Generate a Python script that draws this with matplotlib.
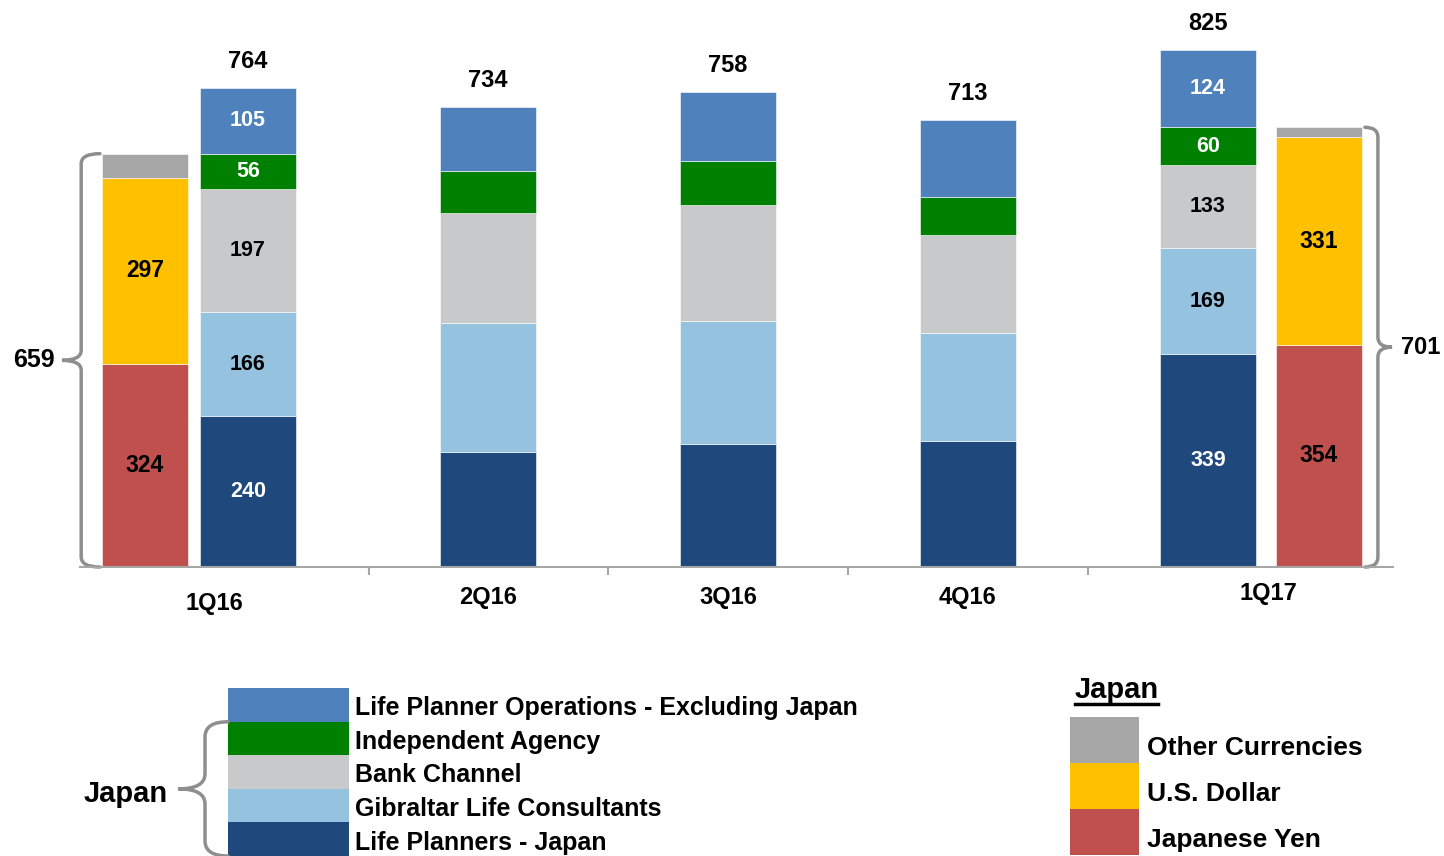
import numpy as np
import matplotlib.pyplot as plt
from matplotlib.path import Path
from matplotlib.patches import PathPatch

plt.rcParams["font.family"] = ["Liberation Sans", "DejaVu Sans"]
plt.rcParams["font.weight"] = "bold"

# ---- data ----
quarters = ["1Q16", "2Q16", "3Q16", "4Q16", "1Q17"]
planners_japan = [240, 183, 196, 201, 339]
gibraltar = [166, 206, 196, 172, 169]
bank = [197, 176, 185, 157, 133]
agency = [56, 67, 70, 60, 60]
lpo_ex_japan = [105, 102, 111, 123, 124]
totals = [764, 734, 758, 713, 825]

# currency split of japan, only for 1Q16 and 1Q17
yen = [324, 354]
usd = [297, 331]
other_ccy = [38, 16]
japan_totals = [659, 701]

channel_names = [
    "Life Planner Operations - Excluding Japan",
    "Independent Agency",
    "Bank Channel",
    "Gibraltar Life Consultants",
    "Life Planners - Japan",
]
currency_names = ["Other Currencies", "U.S. Dollar", "Japanese Yen"]

c_dark = "#1F497D"
c_light = "#95C2DE"
c_gray = "#C8C9CB"
c_green = "#008000"
c_mid = "#4F81BD"
c_red = "#C0504D"
c_yellow = "#FFC000"
c_other = "#A6A6A6"
brace_color = "#8E8E8E"


def brace(ax, x_end, x_spine, x_tip, y0, y1, r, **kw):
    ym = (y0 + y1) / 2
    verts = [
        (x_end, y1), (x_spine, y1), (x_spine, y1 - r),
        (x_spine, ym + r), (x_spine, ym), (x_tip, ym),
        (x_spine, ym), (x_spine, ym - r),
        (x_spine, y0 + r), (x_spine, y0), (x_end, y0),
    ]
    codes = [Path.MOVETO, Path.CURVE3, Path.CURVE3,
             Path.LINETO, Path.CURVE3, Path.CURVE3,
             Path.CURVE3, Path.CURVE3,
             Path.LINETO, Path.CURVE3, Path.CURVE3]
    patch = PathPatch(Path(verts, codes), fill=False, edgecolor=brace_color,
                      lw=2.5, clip_on=False, capstyle="round", **kw)
    ax.add_patch(patch)


fig = plt.figure(figsize=(14.44, 8.56), dpi=100)
ax = fig.add_axes([0.0554, 0.3376, 0.9093, 0.6624])

x = np.arange(len(quarters))
w = 0.4
segments = [
    (planners_japan, c_dark, "white"),
    (gibraltar, c_light, "black"),
    (bank, c_gray, "black"),
    (agency, c_green, "white"),
    (lpo_ex_japan, c_mid, "white"),
]
bottom = np.zeros(len(quarters))
for vals, col, tcol in segments:
    bars = ax.bar(x, vals, w, bottom=bottom, color=col, edgecolor="white", lw=0.4)
    for i in (0, 4):
        ax.text(x[i], bottom[i] + vals[i] / 2, str(vals[i]), ha="center",
                va="center", color=tcol, fontsize=15.5, fontweight="bold")
    bottom += np.array(vals)

for i, t in enumerate(totals):
    ax.annotate(str(t), (x[i], bottom[i]), xytext=(0, 19), textcoords="offset points",
                ha="center", va="center", fontsize=17, fontweight="bold")

# currency bars
cx = np.array([x[0] - 0.43, x[4] + 0.4625])
cw = 0.36
cbottom = np.zeros(2)
for vals, col, show in [(yen, c_red, True), (usd, c_yellow, True), (other_ccy, c_other, False)]:
    ax.bar(cx, vals, cw, bottom=cbottom, color=col, edgecolor="white", lw=0.4)
    if show:
        for j in range(2):
            ax.text(cx[j], cbottom[j] + vals[j] / 2, str(vals[j]), ha="center",
                    va="center", color="black", fontsize=16.5, fontweight="bold")
    cbottom += np.array(vals)

# braces around currency bars
brace(ax, -0.617, -0.695, -0.775, 0, japan_totals[0], 16)
ax.text(-0.805, japan_totals[0] / 2, str(japan_totals[0]), ha="right", va="center",
        fontsize=18, fontweight="bold", clip_on=False)
brace(ax, 4.654, 4.708, 4.767, 0, japan_totals[1], 16)
ax.text(4.805, japan_totals[1] / 2, str(japan_totals[1]), ha="left", va="center",
        fontsize=17, fontweight="bold", clip_on=False)

# category labels
label_x = [-0.142, 1, 2, 3, 4.25]
label_y = [-58, -48, -48, -48, -43]
for lx, ly, q in zip(label_x, label_y, quarters):
    ax.text(lx, ly, q, ha="center", va="center", fontsize=17, fontweight="bold")

ax.set_xlim(-0.7, 4.771)
ax.set_ylim(0, 904)
ax.set_xticks([0.504, 1.5, 2.5, 3.5])
ax.set_xticklabels([])
ax.set_yticks([])
ax.tick_params(axis="x", direction="out", length=6, width=1.5, color="#A6A6A6")
for s in ["top", "right", "left"]:
    ax.spines[s].set_visible(False)
ax.spines["bottom"].set_color("#A6A6A6")
ax.spines["bottom"].set_linewidth(1.5)

# ---- channel legend ----
lax = fig.add_axes([0.1579, 0.0, 0.0838, 0.196])
lcolors = [c_mid, c_green, c_gray, c_light, c_dark]
lax.barh(np.arange(5), [1] * 5, height=1, color=lcolors)
for i, name in enumerate(channel_names):
    lax.text(1.05, i + 0.1, name, ha="left", va="center", fontsize=18,
             fontweight="bold", clip_on=False)
lax.set_xlim(0, 1)
lax.set_ylim(4.5, -0.5)
lax.axis("off")
brace(lax, 0.0, -0.19, -0.41, 0.5, 4.5, 0.45)
lax.text(-0.5, 2.65, "Japan", ha="right", va="center", fontsize=21, fontweight="bold",
         clip_on=False)

# ---- currency legend ----
cax = fig.add_axes([0.741, 0.001, 0.0478, 0.161])
cax.barh(np.arange(3), [1] * 3, height=1, color=[c_other, c_yellow, c_red])
for i, name in enumerate(currency_names):
    cax.text(1.116, i + 0.17, name, ha="left", va="center", fontsize=19,
             fontweight="bold", clip_on=False)
cax.set_xlim(0, 1)
cax.set_ylim(2.5, -0.5)
cax.axis("off")
cax.text(0.072, -1.1, "Japan", ha="left", va="center", fontsize=21,
         fontweight="bold", clip_on=False)
cax.plot([0.072, 1.275], [-0.78, -0.78], color="black", lw=2.5, clip_on=False)

fig.savefig("out.png", dpi=100)
